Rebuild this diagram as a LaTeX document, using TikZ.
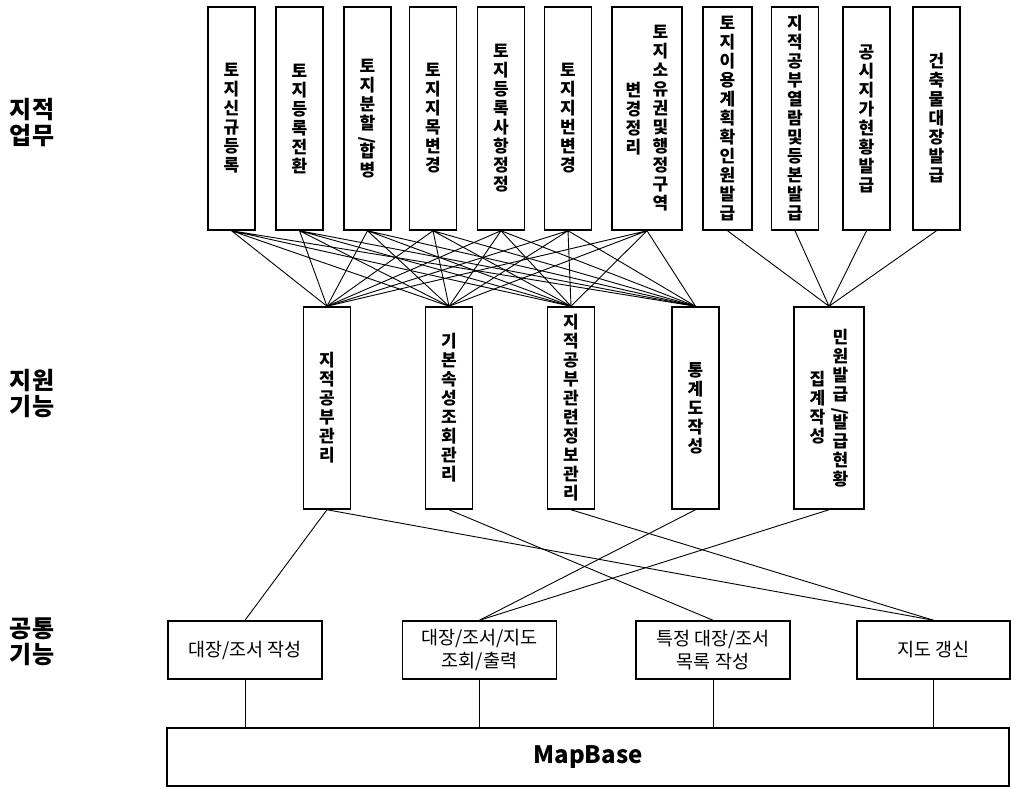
\documentclass[tikz,border=0pt]{standalone}
\usepackage{fontspec}
\setmainfont{Noto Sans CJK KR}
\usetikzlibrary{positioning}
\newcommand\vtxt[1]{\parbox[c]{20pt}{\centering #1}}

\begin{document}
\begin{tikzpicture}[x=1pt,y=1pt,
  topbox/.style={draw,line width=1.5pt,minimum width=47pt,minimum height=223pt,inner sep=0pt,
    font=\fontsize{17}{19}\selectfont\bfseries},
  midbox/.style={draw,line width=1.5pt,minimum width=47pt,minimum height=202pt,inner sep=0pt,
    font=\fontsize{17}{19}\selectfont\bfseries},
  basebox/.style={draw,line width=1.5pt,minimum width=154pt,minimum height=58pt,inner sep=0pt,
    align=center,font=\fontsize{18.5}{23}\selectfont},
  sidelabel/.style={align=center,inner sep=0pt,font=\fontsize{24}{26}\selectfont\bfseries},
  link/.style={line width=0.9pt}]

\useasboundingbox (0,0) rectangle (1011,-789);

\node[sidelabel] (l1) at (32,-123) {지적\\업무};
\node[sidelabel] (l2) at (32,-393) {지원\\기능};
\node[sidelabel] (l3) at (32,-642) {공통\\기능};

\node[topbox] (t1) at (231.5,-118.5) {\vtxt{토\\지\\신\\규\\등\\록}};
\node[topbox] (t2) at (299.5,-118.5) {\vtxt{토\\지\\등\\록\\전\\환}};
\node[topbox] (t3) at (367.5,-118.5) {\vtxt{토\\지\\분\\할\\[-5pt]\rotatebox{90}{/}\\[-5pt]합\\병}};
\node[topbox] (t4) at (433.0,-118.5) {\vtxt{토\\지\\지\\목\\변\\경}};
\node[topbox] (t5) at (501.0,-118.5) {\vtxt{토\\지\\등\\록\\사\\항\\정\\정}};
\node[topbox] (t6) at (568.0,-118.5) {\vtxt{토\\지\\지\\번\\변\\경}};
\node[topbox,minimum width=70pt] (t7) at (647.0,-118.5)
  {\vtxt{변\\경\\정\\리}\hspace{7pt}\vtxt{토\\지\\소\\유\\권\\및\\행\\정\\구\\역}\hspace{11pt}};
\node[topbox,minimum width=49pt] (t8) at (727.5,-118.5) {\vtxt{토\\지\\이\\용\\계\\획\\확\\인\\원\\발\\급}};
\node[topbox] (t9) at (795.0,-118.5) {\vtxt{지\\적\\공\\부\\열\\람\\및\\등\\본\\발\\급}};
\node[topbox] (t10) at (866.5,-118.5) {\vtxt{공\\시\\지\\가\\현\\황\\발\\급}};
\node[topbox] (t11) at (936.5,-118.5) {\vtxt{건\\축\\물\\대\\장\\발\\급}};

\node[midbox] (m1) at (327.0,-408) {\vtxt{지\\적\\공\\부\\관\\리}};
\node[midbox] (m2) at (449.0,-408) {\vtxt{기\\본\\속\\성\\조\\회\\관\\리}};
\node[midbox] (m3) at (571.0,-408) {\vtxt{지\\적\\공\\부\\관\\련\\정\\보\\관\\리}};
\node[midbox] (m4) at (695.5,-408) {\vtxt{통\\계\\도\\작\\성}};
\node[midbox,minimum width=70pt] (m5) at (829.0,-408)
  {\vtxt{집\\계\\작\\성}\hspace{3pt}\vtxt{민\\원\\발\\급\\[-5pt]\rotatebox{90}{/}\\[-5pt]발\\급\\현\\황}\hspace{11pt}};

\node[basebox] (b1) at (245.0,-650) {대장/조서 작성};
\node[basebox] (b2) at (479.5,-650) {대장/조서/지도\\조회/출력};
\node[basebox] (b3) at (713.0,-650) {특정 대장/조서\\목록 작성};
\node[basebox,minimum width=153pt] (b4) at (933.5,-650) {지도 갱신};

\node[basebox,minimum width=842pt,font=\fontsize{24}{26}\selectfont\bfseries] (mb) at (588.0,-757) {MapBase};

\draw[link] (t1.south) -- (m1.north) (t1.south) -- (m2.north) (t1.south) -- (m3.north) (t1.south) -- (m4.north);
\draw[link] (t2.south) -- (m1.north) (t2.south) -- (m2.north) (t2.south) -- (m3.north) (t2.south) -- (m4.north);
\draw[link] (t3.south) -- (m1.north) (t3.south) -- (m2.north) (t3.south) -- (m3.north) (t3.south) -- (m4.north);
\draw[link] (t4.south) -- (m1.north) (t4.south) -- (m2.north) (t4.south) -- (m3.north) (t4.south) -- (m4.north);
\draw[link] (t5.south) -- (m1.north) (t5.south) -- (m2.north) (t5.south) -- (m3.north) (t5.south) -- (m4.north);
\draw[link] (t6.south) -- (m1.north) (t6.south) -- (m2.north) (t6.south) -- (m3.north) (t6.south) -- (m4.north);
\draw[link] (t7.south) -- (m1.north) (t7.south) -- (m2.north) (t7.south) -- (m3.north) (t7.south) -- (m4.north);
\draw[link] (t8.south) -- (m5.north) (t9.south) -- (m5.north) (t10.south) -- (m5.north) (t11.south) -- (m5.north);

\draw[link] (m1.south) -- (b1.north);
\draw[link] (m1.south) -- (b4.north);
\draw[link] (m2.south) -- (b3.north);
\draw[link] (m3.south) -- (b4.north);
\draw[link] (m4.south) -- (b2.north);
\draw[link] (m5.south) -- (b2.north);

\draw[link] (b1.south) -- (b1.south |- mb.north);
\draw[link] (b2.south) -- (b2.south |- mb.north);
\draw[link] (b3.south) -- (b3.south |- mb.north);
\draw[link] (b4.south) -- (b4.south |- mb.north);
\end{tikzpicture}
\end{document}
